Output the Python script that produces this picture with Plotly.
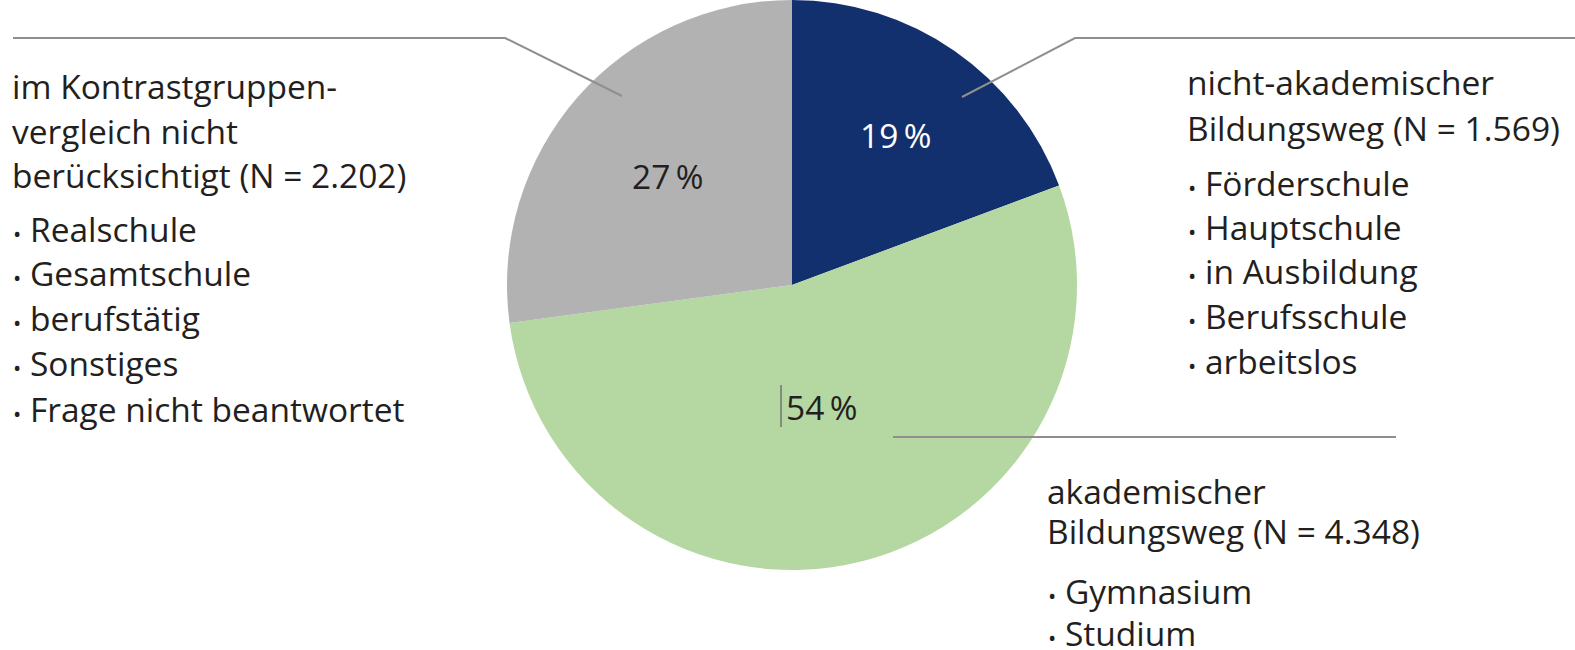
import math
import plotly.graph_objects as go

# Slice data (clockwise from 12 o'clock)
groups = ["nicht-akademischer Bildungsweg", "akademischer Bildungsweg",
          "im Kontrastgruppenvergleich nicht berücksichtigt"]
counts = [1569, 4348, 2202]
colors = ["#13306e", "#b5d7a1", "#b2b2b2"]
pct_colors = ["#ffffff", "#231f20", "#231f20"]
pct_radius = [0.64, 0.44, 0.58]  # label distance from centre, in units of radius

# Descriptive text blocks
head_nonacad = ["nicht-akademischer", "Bildungsweg (N = {n})"]
items_nonacad = ["Förderschule", "Hauptschule", "in Ausbildung", "Berufsschule", "arbeitslos"]
head_acad = ["akademischer", "Bildungsweg (N = {n})"]
items_acad = ["Gymnasium", "Studium"]
head_other = ["im Kontrastgruppen-", "vergleich nicht", "berücksichtigt (N = {n})"]
items_other = ["Realschule", "Gesamtschule", "berufstätig", "Sonstiges", "Frage nicht beantwortet"]

W, H = 1575, 650
FONT = "Open Sans"
FS = 33.5
TXT = "#231f20"
LINE = "#8f8f8f"

cx, cy, r = 792, 285, 285  # pie centre / radius in pixels

fig = go.Figure(go.Pie(
    labels=groups, values=counts, sort=False, direction="clockwise", rotation=0,
    marker=dict(colors=colors, line=dict(width=0)),
    textinfo="none", hoverinfo="label+percent", showlegend=False,
    domain=dict(x=[(cx - r) / W, (cx + r) / W], y=[1 - (cy + r) / H, 1 - (cy - r) / H]),
))

ann = []
# Percent labels placed along each slice's mid-angle
total = sum(counts)
start = 0.0
for n, col, rf in zip(counts, pct_colors, pct_radius):
    span = n / total * 360
    mid = math.radians(start + span / 2)
    x = cx + rf * r * math.sin(mid)
    y = cy - rf * r * math.cos(mid)
    ann.append(dict(x=x, y=y, xref="x", yref="y", text=f"{round(n / total * 100)}\u2009%",
                    font=dict(color=col, size=FS, family=FONT),
                    xanchor="center", yanchor="middle", showarrow=False))
    start += span


def fmt(n):
    return f"{n:,}".replace(",", ".")


BULLET = "<span style='font-size:22px'>•</span> "


def block(x, ys_head, heads, ys_items, items, n):
    for y, t in zip(ys_head, heads):
        ann.append(dict(x=x, y=y, xref="x", yref="y", text=t.format(n=fmt(n)),
                        xanchor="left", yanchor="middle", showarrow=False, borderpad=0,
                        font=dict(color=TXT, size=FS, family=FONT)))
    for y, t in zip(ys_items, items):
        ann.append(dict(x=x + 1, y=y, xref="x", yref="y", text=BULLET + t,
                        xanchor="left", yanchor="middle", showarrow=False, borderpad=0,
                        font=dict(color=TXT, size=FS, family=FONT)))


block(1186, [82, 128], head_nonacad, [183, 227, 271, 316, 361], items_nonacad, counts[0])
block(1046, [491, 531], head_acad, [591, 633], items_acad, counts[1])
block(11, [86, 131, 175], head_other, [229, 273, 318, 363, 409], items_other, counts[2])

shapes = [
    dict(type="path", path="M 13 38 L 505 38 L 622 96", xref="x", yref="y",
         line=dict(color=LINE, width=2)),
    dict(type="path", path="M 962 97 L 1075 38 L 1575 38", xref="x", yref="y",
         line=dict(color=LINE, width=2)),
    dict(type="line", x0=893, x1=1396, y0=437, y1=437, xref="x", yref="y",
         line=dict(color=LINE, width=2)),
    dict(type="line", x0=781, x1=781, y0=385, y1=427, xref="x", yref="y",
         line=dict(color="#4a4458", width=1)),
]

fig.update_layout(
    width=W, height=H, margin=dict(l=0, r=0, t=0, b=0),
    paper_bgcolor="white", plot_bgcolor="rgba(0,0,0,0)",
    xaxis=dict(range=[0, W], visible=False, fixedrange=True, domain=[0, 1]),
    yaxis=dict(range=[H, 0], visible=False, fixedrange=True, domain=[0, 1]),
    annotations=ann, shapes=shapes,
)

fig.write_html("out.html", config={"displayModeBar": False})
